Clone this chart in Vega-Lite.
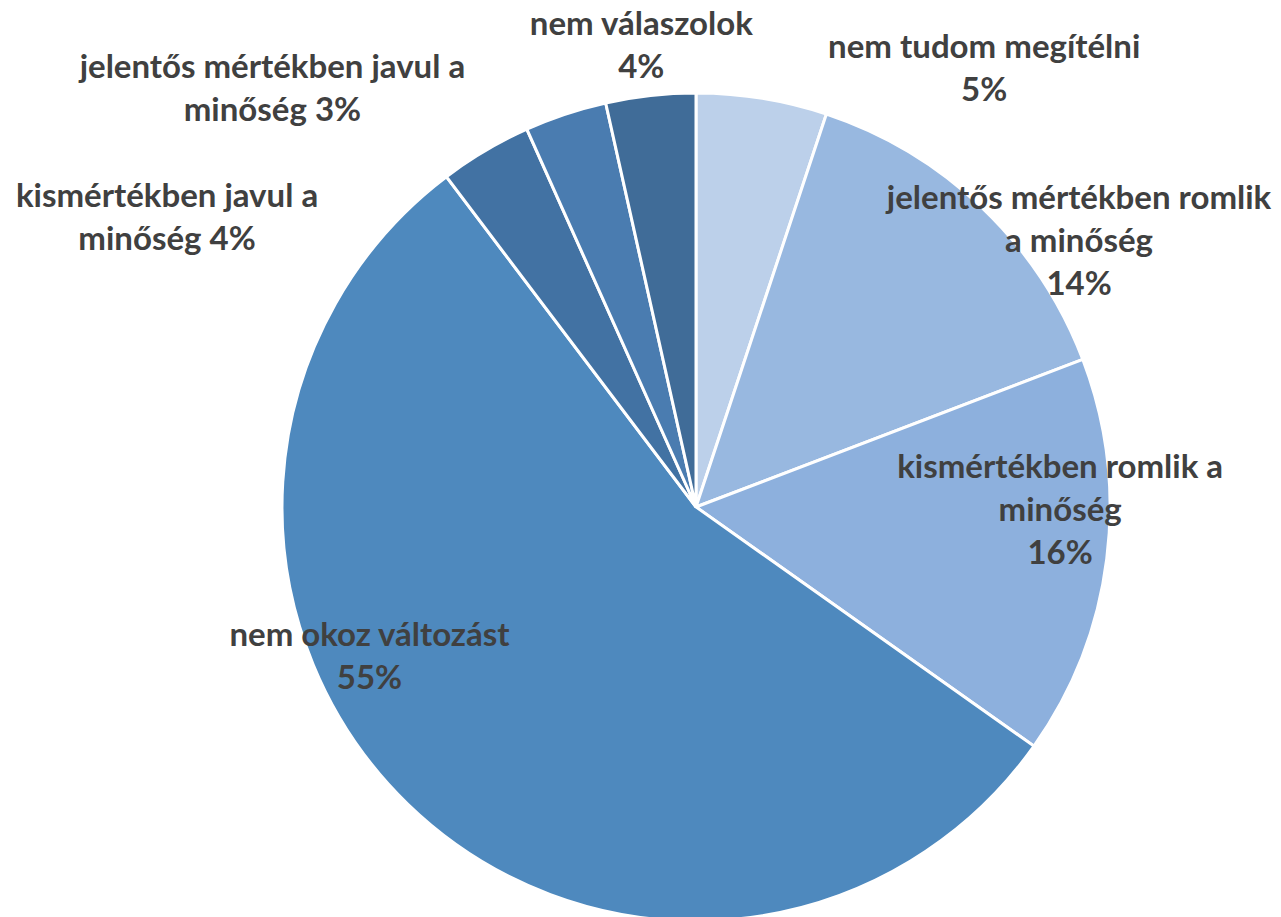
{
  "$schema": "https://vega.github.io/schema/vega-lite/v6.json",
  "width": 828,
  "height": 828,
  "autosize": "none",
  "padding": {"left": 282, "top": 93, "right": 171, "bottom": 0},
  "background": "white",
  "config": {"view": {"stroke": null}, "text": {"font": "Lato", "fontWeight": "bold", "fontSize": 33, "fill": "#404040", "lineHeight": 43, "lineBreak": "\n", "align": "center", "baseline": "middle"}},
  "data": {"values": [
    {"idx": 1, "cat": "nem tudom megítélni", "value": 5.1, "label": "nem tudom megítélni\n5%"},
    {"idx": 2, "cat": "jelentős mértékben romlik a minőség", "value": 14.1, "label": "jelentős mértékben romlik\na minőség\n14%"},
    {"idx": 3, "cat": "kismértékben romlik a minőség", "value": 15.6, "label": "kismértékben romlik a\nminőség\n16%"},
    {"idx": 4, "cat": "nem okoz változást", "value": 54.9, "label": "nem okoz változást\n55%"},
    {"idx": 5, "cat": "kismértékben javul a minőség", "value": 3.6, "label": "kismértékben javul a\nminőség 4%"},
    {"idx": 6, "cat": "jelentős mértékben javul a minőség", "value": 3.2, "label": "jelentős mértékben javul a\nminőség 3%"},
    {"idx": 7, "cat": "nem válaszolok", "value": 3.5, "label": "nem válaszolok\n4%"}
  ]},
  "encoding": {
    "theta": {"field": "value", "type": "quantitative", "stack": true},
    "order": {"field": "idx", "type": "quantitative", "sort": "ascending"}
  },
  "layer": [
    {
      "mark": {"type": "arc", "stroke": "white", "strokeWidth": 3},
      "encoding": {
        "color": {"field": "cat", "type": "nominal", "legend": null,
          "scale": {"domain": ["nem tudom megítélni", "jelentős mértékben romlik a minőség", "kismértékben romlik a minőség", "nem okoz változást", "kismértékben javul a minőség", "jelentős mértékben javul a minőség", "nem válaszolok"],
                    "range": ["#BCD0EA", "#98B8E0", "#8DB0DD", "#4E89BE", "#4272A3", "#4A7CB0", "#406C98"]}}
      }
    },
    {"mark": {"type": "text", "radius": 440, "dx": 218, "dy": -24.5},
     "encoding": {"text": {"condition": {"test": "datum.idx === 1", "field": "label"}, "value": ""}}},
    {"mark": {"type": "text", "radius": 460, "dx": 65, "dy": 24},
     "encoding": {"text": {"condition": {"test": "datum.idx === 2", "field": "label"}, "value": ""}}},
    {"mark": {"type": "text", "radius": 365, "dx": 2, "dy": -85},
     "encoding": {"text": {"condition": {"test": "datum.idx === 3", "field": "label"}, "value": ""}}},
    {"mark": {"type": "text", "radius": 360, "dx": -76, "dy": -129.5},
     "encoding": {"text": {"condition": {"test": "datum.idx === 4", "field": "label"}, "value": ""}}},
    {"mark": {"type": "text", "radius": 440, "dx": -305, "dy": 68.5},
     "encoding": {"text": {"condition": {"test": "datum.idx === 5", "field": "label"}, "value": ""}}},
    {"mark": {"type": "text", "radius": 440, "dx": -285, "dy": -21.5},
     "encoding": {"text": {"condition": {"test": "datum.idx === 6", "field": "label"}, "value": ""}}},
    {"mark": {"type": "text", "radius": 462, "dx": -4, "dy": -22.5},
     "encoding": {"text": {"condition": {"test": "datum.idx === 7", "field": "label"}, "value": ""}}}
  ]
}
